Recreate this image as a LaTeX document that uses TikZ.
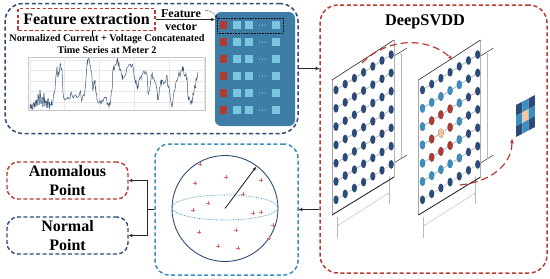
\documentclass[tikz,border=0pt]{standalone}
\usepackage{fontspec}
\setmainfont{Liberation Serif}
\usetikzlibrary{arrows.meta, positioning, calc}
\definecolor{navy}{HTML}{2C4B78}
\definecolor{boxred}{HTML}{B83A32}
\definecolor{skyblue}{HTML}{3A8EC0}
\definecolor{panelblue}{HTML}{3D7DA6}
\definecolor{cellblue}{HTML}{7CC5DF}
\definecolor{cellred}{HTML}{B23A2E}
\definecolor{peach}{HTML}{F5C7A1}
\definecolor{plusred}{HTML}{E06A6A}
\definecolor{seriesblue}{HTML}{3B5878}
\tikzset{
  dashbox/.style={rounded corners=18pt, line width=1.5pt, dash pattern=on 4pt off 2.6pt},
  smallbox/.style={rounded corners=11pt, line width=1.4pt, dash pattern=on 4pt off 2.4pt,
    minimum width=121pt, minimum height=35pt, align=center, font=\fontsize{16}{19}\selectfont\bfseries},
  conn/.style={line width=0.9pt, black!85, -{Stealth[length=4pt,width=3.5pt]}},
  mesh/.style={gray!60, line width=0.45pt},
  series/.style={seriesblue, line width=0.5pt},
  arcred/.style={boxred, line width=1.2pt, dash pattern=on 7pt off 4pt, -{Latex[length=5pt]}},
}

\begin{document}
\begin{tikzpicture}[x=1pt, y=-1pt]
  \useasboundingbox (0,0) rectangle (550,279);
  % Rahmen
  \node[dashbox, draw=navy, minimum width=293pt, minimum height=130pt] (fe) at (151.5,68.5) {};
  \node[dashbox, draw=boxred, minimum width=227pt, minimum height=268pt] (svdd) at (433.5,139) {};
  \node[dashbox, draw=skyblue, rounded corners=14pt, minimum width=143pt, minimum height=131pt] (sph) at (226.5,209.5) {};
  \node[smallbox, draw=boxred] (anom) at (67.5,180.5) {Anomalous\\Point};
  \node[smallbox, draw=navy] (norm) at (67.5,235.5) {Normal\\Point};

  % Merkmalsextraktion
  \node[draw=boxred, line width=1.4pt, dash pattern=on 3.5pt off 2.2pt, minimum width=137pt, minimum height=22pt,
    inner sep=1pt, font=\fontsize{16}{18}\selectfont\bfseries] (fx) at (86.5,19.5) {Feature extraction};
  \node[font=\fontsize{12}{12.5}\selectfont\bfseries, align=center] (fv) at (181,20) {Feature\\vector};
  \node[font=\fontsize{10.2}{12}\selectfont\bfseries, align=center] (tt) at (107,44)
    {Normalized Current + Voltage Concatenated\\Time Series at Meter 2};
  \coordinate (tick) at (92,36);
  \draw[line width=0.6pt] (fx.south -| tick) -- (tick);

  % Merkmalsvektor
  \node[fill=panelblue, rounded corners=6pt, minimum width=80pt, minimum height=114pt] (fvp) at (255,69) {};
  \foreach \y in {25,42,59,76,93,110}{
    \fill[cellred] (220,{\y-3.7}) rectangle (227.4,{\y+3.7});
    \foreach \x in {236.5,249,276}
      \fill[cellblue] ({\x-4},{\y-4}) rectangle ({\x+4},{\y+4});
    \foreach \x in {259.5,262.5,265.5}
      \fill[cellblue!45] (\x,\y) circle (0.5);
  }
  \node[draw, densely dotted, line width=0.6pt, minimum width=66pt, minimum height=15pt, inner sep=0pt] (row) at (250,25.5) {};
  \draw[conn] (fx.east) -- (fx.east -| fvp.west);
  \draw[densely dotted, line width=0.6pt, -{Stealth[length=2.5pt]}] ([shift={(1pt,-4pt)}]fv.north east) to[bend left=30] (row.north west);

  % Zeitreihe
  \draw[gray!45, line width=0.4pt] (28,57) rectangle (205,110);
  \foreach \y in {60,70.5,81,91.5,102}
    \draw[gray!18, line width=0.3pt] (28,\y) -- (205,\y);
  \foreach \x in {30,64.5,99.5,134.5,169,204}
    \draw[gray!18, line width=0.3pt] (\x,57) -- (\x,110);
  \begin{scope}
    \clip (28,57) rectangle (205,110);
    \pgfmathsetseed{11}
    \foreach \x/\y [remember=\x as \lx (initially 30), remember=\y as \ly (initially 108)] in
      {30/108, 31/104, 32/108, 33/105, 35/107, 36/100, 37/106, 38/94, 39/105, 40/90, 41/104, 42/97,
       43/107, 44/93, 45/106, 46/101, 47/108, 48/99, 49/107, 50/104, 52/105, 55/90, 57/67, 58/77,
       60/65, 62/70, 63/93, 65/100, 68/97, 72/95, 77/98, 80/92, 82/100, 85/90, 87/63, 88/60, 90/65,
       92/77, 93/90, 95/80, 96/93, 98/103, 102/100, 105/98, 108/103, 110/105, 112/90, 113/70,
       115/65, 117/60, 118/62, 120/70, 122/77, 123/78, 127/68, 130/65, 132/65, 133/67, 135/80,
       137/87, 138/88, 140/77, 142/75, 143/73, 147/75, 148/93, 150/87, 152/75, 153/77, 157/90,
       158/100, 160/87, 162/80, 165/83, 167/75, 168/85, 170/95, 172/107, 173/100, 175/90, 178/77,
       182/70, 183/70, 185/75, 187/78, 188/97, 190/100, 192/103, 193/93, 195/87, 197/77, 198/72}{
      \draw[series] (\lx,\ly) \foreach \t in {0.25,0.5,0.75}{ -- ({\lx+(\x-\lx)*\t},{\ly+(\y-\ly)*\t+3.5*rand}) } -- (\x,\y);
    }
  \end{scope}

  % DeepSVDD
  \node[font=\fontsize{16.3}{18}\selectfont\bfseries] (ttl) at (425,22) {DeepSVDD};
  \foreach \s in {0,86.5}{
    \begin{scope}[xshift=\s]
      \draw[gray!55, line width=0.5pt] (337,217) -- (337,238) (389,176) -- (389,204);
      \draw[gray!55, line width=0.4pt, {Stealth[length=2pt]}-{Stealth[length=2pt]}] (337,226) -- (389,193);
      \draw[black!80, line width=0.5pt] (394,56) -- (407,48) (394,163) -- (407,155);
      \draw[gray!55, line width=0.4pt, {Stealth[length=2pt]}-{Stealth[length=2pt]}] (401,53) -- (401,159);
      \foreach \i in {0,...,6}
        \foreach \j in {0,...,6}
          \coordinate (n\i\j) at ({336+9.2*\i},{90+18.3*\j-5.9*\i});
      \foreach \i [evaluate=\i as \k using int(\i+1)] in {0,...,5}
        \foreach \j [evaluate=\j as \m using int(\j+1)] in {0,...,6}{
          \draw[mesh] (n\i\j) -- (n\k\j);
          \ifnum\j<6 \draw[mesh] (n\i\j) -- (n\k\m); \fi
        }
      \draw[gray!70, line width=0.8pt] (332,80) -- (332,215);
      \draw[gray!60, line width=0.6pt] (394,40) -- (394,177);
      \draw[black!85, line width=0.6pt] (332,80) -- (394,40);
      \draw[black!85, line width=0.9pt] (332,215) -- (394,177);
      \foreach \i in {0,...,6}
        \foreach \j in {0,...,6}
          \fill[navy] (n\i\j) ellipse (2.6 and 4.4);
    \end{scope}
  }
  % Aktivierungen zweite Schicht
  \begin{scope}[xshift=86.5]
    \foreach \i in {0,...,4}
      \foreach \j in {1,...,5}
        \fill[skyblue] ({336+9.2*\i},{90+18.3*\j-5.9*\i}) ellipse (2.6 and 4.4);
    \foreach \i in {1,2,3}
      \foreach \j in {2,3,4}
        \fill[cellred] ({336+9.2*\i},{90+18.3*\j-5.9*\i}) ellipse (2.6 and 4.4);
    \fill[peach] ({336+9.2*2},{90+18.3*3-5.9*2}) ellipse (2.6 and 4.4);
  \end{scope}

  % Ausgabe
  \foreach \a/\b/\c in {0/0/navy, 1/0/skyblue, 2/0/navy, 0/1/skyblue, 1/1/peach, 2/1/skyblue,
                        0/2/navy, 1/2/skyblue, 2/2/navy}
    \fill[\c] ($(516,105)+\a*(6.33,-3.33)+\b*(0,10.67)$) -- ++(6.33,-3.33) -- ++(0,10.67) -- ++(-6.33,3.33) -- cycle;
  \coordinate (a1) at (362,63);
  \coordinate (a2) at (453,60);
  \coordinate (b1) at (460,185);
  \coordinate (b2) at (512,138);
  \draw[arcred] (a1) .. controls (388,37) and (428,37) .. (a2);
  \draw[arcred] (b1) .. controls (490,182) and (512,165) .. (b2);

  % Kugel
  \coordinate (c) at (225,208.5);
  \draw[navy, line width=0.9pt] (c) circle (53);
  \draw[skyblue, densely dotted, line width=0.7pt] (225,207.5) ellipse (53 and 12.5);
  \draw[line width=0.7pt, -{Stealth[length=4pt]}] (c) -- (256,167);
  \foreach \x/\y in {200/164, 226/177, 195/183, 261/180, 243/194, 208/203, 193/210, 253/213,
                     261/212, 273/225, 199/232, 236/230, 269/238, 218/246, 238/248}
    \draw[plusred, line width=0.5pt] ({\x-2},\y) -- ({\x+2},\y) (\x,{\y-2}) -- (\x,{\y+2});

  % Verbindungen
  \draw[conn] (fe.east) -- (fe.east -| svdd.west);
  \draw[conn] (sph.east -| svdd.west) -- (sph.east);
  \coordinate (br) at ($(sph.west)+(-7,0)$);
  \draw[line width=0.9pt, black!85] (sph.west) -- (br);
  \draw[conn] (br) |- (anom.east);
  \draw[conn] (br) |- (norm.east);
\end{tikzpicture}
\end{document}
